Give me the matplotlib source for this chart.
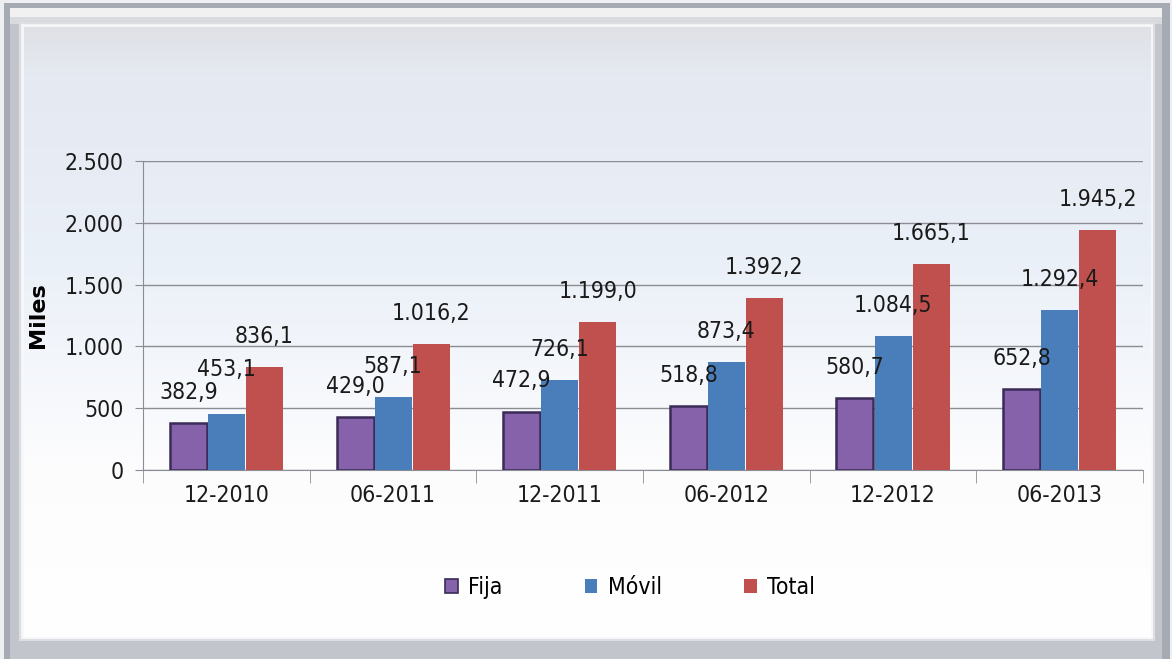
import numpy as np
import matplotlib
matplotlib.use("Agg")
import matplotlib.pyplot as plt
from matplotlib.patches import Rectangle, Patch
from matplotlib.ticker import FuncFormatter, FixedLocator

plt.rcParams["font.family"] = ["DejaVu Sans"]
plt.rcParams["font.stretch"] = "condensed"

periodos = ["12-2010", "06-2011", "12-2011", "06-2012", "12-2012", "06-2013"]
fija = [382.9, 429.0, 472.9, 518.8, 580.7, 652.8]
movil = [453.1, 587.1, 726.1, 873.4, 1084.5, 1292.4]
total = [836.1, 1016.2, 1199.0, 1392.2, 1665.1, 1945.2]


def miles(v, pos=None):
    # 1.234 style thousands separator
    return f"{v:,.0f}".replace(",", ".")


def etiqueta(v):
    s = f"{v:,.1f}"
    return s.replace(",", "X").replace(".", ",").replace("X", ".")


W, H = 1172, 659
fig = plt.figure(figsize=(W / 100, H / 100), dpi=100)
fig.patch.set_facecolor("#eeeff1")

# background: bevelled grey frame + soft gradient panel
bg = fig.add_axes([0, 0, 1, 1], zorder=-5)
bg.add_patch(Rectangle((4, 3), W - 6, H - 3, facecolor="#a6aab2", edgecolor="none", zorder=0))
bg.add_patch(Rectangle((10, 8), W - 20, H - 8, facecolor="#c2c5cc", edgecolor="none", zorder=0))
bg.add_patch(Rectangle((10, 8), W - 20, 9, facecolor="#f1f1f2", edgecolor="none", zorder=0))
bg.add_patch(Rectangle((10, 17), W - 20, 7, facecolor="#d9dadd", edgecolor="none", zorder=0))
stops_y = [0, 0.08, 0.38, 0.72, 1.0]
stops_c = [(0.875, 0.882, 0.902), (0.898, 0.914, 0.945), (0.918, 0.941, 0.973),
           (0.99, 0.99, 0.995), (1.0, 1.0, 1.0)]
yy = np.linspace(0, 1, 300)
grad = np.stack([np.interp(yy, stops_y, [c[k] for c in stops_c]) for k in range(3)], axis=-1)
grad = np.repeat(grad[:, None, :], 2, axis=1)
bg.imshow(grad, extent=(22, 1152, 638, 25), aspect="auto", interpolation="bilinear", zorder=1)
bg.add_patch(Rectangle((22, 25), 1130, 613, facecolor="none", edgecolor="#f7f8fa", lw=2.0, zorder=2))
bg.add_patch(Rectangle((20, 23), 1134, 617, facecolor="none", edgecolor="#dcdee2", lw=1.5, zorder=2))
bg.set_xlim(0, W)
bg.set_ylim(H, 0)
bg.axis("off")

ax = fig.add_axes([143 / W, (H - 470) / H, 1000 / W, 309 / H])
ax.set_facecolor("none")

x = np.arange(len(periodos))
ancho = 0.222
sep = 0.228

b1 = ax.bar(x - sep, fija, ancho, color="#8662aa", edgecolor="#3b2b58", linewidth=1.8, zorder=3)
b2 = ax.bar(x, movil, ancho, color="#4a7ebb", edgecolor="none", zorder=3)
b3 = ax.bar(x + sep, total, ancho, color="#c0504d", edgecolor="none", zorder=3)

# extra lift for labels that would collide with a neighbour
subir = {(1, 0): 10}

for j, (barras, vals) in enumerate([(b1, fija), (b2, movil), (b3, total)]):
    for i, (r, v) in enumerate(zip(barras, vals)):
        ax.annotate(etiqueta(v), (r.get_x() + r.get_width() / 2, v),
                    xytext=(0, 22 + subir.get((j, i), 0)), textcoords="offset points",
                    ha="center", va="center", fontsize=16.5, color="#1a1a1a", zorder=5)

ax.set_xlim(-0.5, len(periodos) - 0.5)
ax.set_ylim(0, 2500)
ax.set_yticks(np.arange(0, 2501, 500))
ax.yaxis.set_major_formatter(FuncFormatter(miles))
ax.yaxis.grid(True, color="#8a8d93", lw=1.0)
ax.set_axisbelow(True)

ax.set_xticks(x)
ax.set_xticklabels(periodos)
ax.xaxis.set_minor_locator(FixedLocator(np.arange(-0.5, len(periodos), 1.0)))
ax.tick_params(axis="x", which="major", length=0, pad=10, labelsize=16.5, colors="#1a1a1a")
ax.tick_params(axis="x", which="minor", length=9, color="#8a8d93")
ax.tick_params(axis="y", length=6, color="#8a8d93", labelsize=16.5, labelcolor="#1a1a1a", pad=8)

for s in ["top", "right"]:
    ax.spines[s].set_visible(False)
for s in ["left", "bottom"]:
    ax.spines[s].set_color("#8a8d93")

ax.set_ylabel("Miles", fontweight="bold", fontstretch="normal", fontsize=16, labelpad=12)

handles = [Patch(facecolor="#8662aa", edgecolor="#3b2b58", lw=1.2),
           Patch(facecolor="#4a7ebb"), Patch(facecolor="#c0504d")]
fig.legend(handles, ["Fija", "Móvil", "Total"], loc="center", bbox_to_anchor=(0.5375, 0.108),
           ncol=3, frameon=False, fontsize=16.5, handlelength=0.55, handleheight=0.55,
           handletextpad=0.45, columnspacing=3.6)

fig.savefig("out.png", dpi=100, facecolor=fig.get_facecolor())
